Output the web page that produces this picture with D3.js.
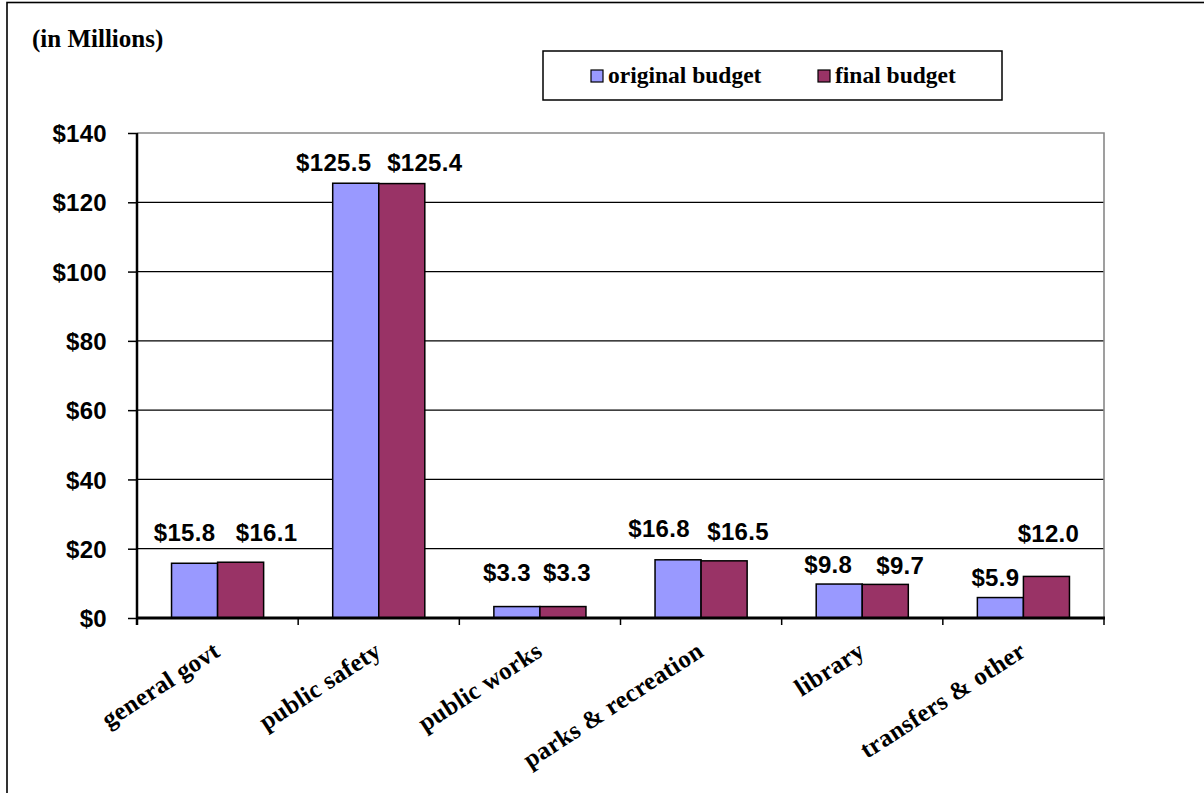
<!DOCTYPE html>
<html>
<head>
<meta charset="utf-8">
<script src="https://cdn.jsdelivr.net/npm/d3@7"></script>
<style>
  html, body { margin: 0; padding: 0; background: #fff; }
  svg { display: block; }
</style>
</head>
<body>
<svg id="chart" width="1204" height="793"></svg>
<script>
// ---- data ----
const categories = ["general govt", "public safety", "public works", "parks & recreation", "library", "transfers & other"];
const seriesNames = ["original budget", "final budget"];
const originalBudget = [15.8, 125.5, 3.3, 16.8, 9.8, 5.9];
const finalBudget = [16.1, 125.4, 3.3, 16.5, 9.7, 12.0];
const yTicks = [0, 20, 40, 60, 80, 100, 120, 140];
const unitNote = "(in Millions)";

// ---- styling (label nudges in px: [dx, dy from bar top]) ----
const colors = ["#9999FF", "#993366"];
const labelNudgeOriginal = [[-10, -31], [-22, -21], [-10, -34], [-19, -31], [-11, -20], [-5, -20]];
const labelNudgeFinal = [[26, -30], [23, -21], [4, -34], [14, -29], [15, -19], [2, -43]];

const svg = d3.select("#chart");
const W = 1204, H = 793;

// outer frame (extends past right/bottom edges)
svg.append("rect")
  .attr("x", 7).attr("y", 2.5)
  .attr("width", W + 20).attr("height", H + 20)
  .attr("fill", "#fff").attr("stroke", "#000").attr("stroke-width", 1.6);

const plot = { left: 137, right: 1104, top: 133, bottom: 618 };

const x = d3.scaleBand().domain(categories).range([plot.left, plot.right]).paddingInner(0).paddingOuter(0);
const y = d3.scaleLinear().domain([0, 140]).range([plot.bottom, plot.top]);
const barW = x.bandwidth() / 3.5; // Excel gap width 150%

// gridlines
const grid = svg.append("g");
grid.selectAll("line").data(yTicks.filter(t => t > 0 && t < 140)).join("line")
  .attr("x1", plot.left).attr("x2", plot.right)
  .attr("y1", d => y(d)).attr("y2", d => y(d))
  .attr("stroke", "#000").attr("stroke-width", 1.3);

// plot area border top/right (gray)
svg.append("path")
  .attr("d", `M${plot.left},${y(140)}H${plot.right}V${plot.bottom}`)
  .attr("fill", "none").attr("stroke", "#888").attr("stroke-width", 1.6);

// bars
const series = [originalBudget, finalBudget];
series.forEach((vals, si) => {
  svg.append("g").selectAll("rect").data(vals).join("rect")
    .attr("x", (d, i) => x(categories[i]) + x.bandwidth() / 2 - barW + si * barW)
    .attr("y", d => y(d))
    .attr("width", barW)
    .attr("height", d => y(0) - y(d))
    .attr("fill", colors[si])
    .attr("stroke", "#000").attr("stroke-width", 1.5);
});

const sansFont = "'Liberation Sans', Arial, sans-serif";
const serifFont = "'Liberation Serif', 'Times New Roman', serif";

// y axis
const yAxis = d3.axisLeft(y).tickValues(yTicks).tickSize(9).tickFormat(d => "$" + d);
const gy = svg.append("g").attr("transform", `translate(${plot.left},0)`).call(yAxis);
gy.select(".domain").attr("stroke", "#000").attr("stroke-width", 2.5).attr("d", `M0,${y(140)}V${plot.bottom + 7}`);
gy.selectAll(".tick line").attr("stroke", "#000").attr("stroke-width", 1.5);
gy.selectAll(".tick text")
  .attr("x", -30)
  .attr("dy", "0.36em")
  .attr("fill", "#000")
  .style("font-family", sansFont)
  .style("font-weight", "bold")
  .style("letter-spacing", "0.3px")
  .style("font-size", "24px");

// x axis line + ticks at category boundaries
const boundaries = categories.map(c => x(c)).concat([plot.right]);
svg.append("g").selectAll("line").data(boundaries).join("line")
  .attr("x1", d => d).attr("x2", d => d)
  .attr("y1", plot.bottom).attr("y2", plot.bottom + 7)
  .attr("stroke", "#000").attr("stroke-width", 1.5);
svg.append("line")
  .attr("x1", plot.left - 1).attr("x2", plot.right + 1)
  .attr("y1", plot.bottom).attr("y2", plot.bottom)
  .attr("stroke", "#000").attr("stroke-width", 3);

// category labels (rotated)
svg.append("g").selectAll("text").data(categories).join("text")
  .attr("transform", d => `translate(${x(d) + x.bandwidth() / 2 + 4},${plot.bottom + 37}) rotate(-33)`)
  .attr("text-anchor", "end")
  .attr("fill", "#000")
  .style("font-family", serifFont)
  .style("font-weight", "bold")
  .style("letter-spacing", "0.3px")
  .style("font-size", "25px")
  .text(d => d);

// data labels
const nudges = [labelNudgeOriginal, labelNudgeFinal];
series.forEach((vals, si) => {
  svg.append("g").selectAll("text").data(vals).join("text")
    .attr("x", (d, i) => x(categories[i]) + x.bandwidth() / 2 - barW / 2 + si * barW + nudges[si][i][0])
    .attr("y", (d, i) => y(d) + nudges[si][i][1])
    .attr("dy", "0.36em")
    .attr("text-anchor", "middle")
    .attr("fill", "#000")
    .style("font-family", sansFont)
    .style("font-weight", "bold")
    .style("letter-spacing", "0.3px")
    .style("font-size", "24px")
    .text(d => "$" + d.toFixed(1));
});

// unit note
svg.append("text")
  .attr("x", 32).attr("y", 47)
  .attr("fill", "#000")
  .style("font-family", serifFont)
  .style("font-weight", "bold")
  .style("font-size", "25px")
  .text(unitNote);

// legend
const lg = svg.append("g");
lg.append("rect").attr("x", 543).attr("y", 51).attr("width", 459).attr("height", 49)
  .attr("fill", "#fff").attr("stroke", "#000").attr("stroke-width", 1.5);
const legendX = [591, 818];
seriesNames.forEach((name, i) => {
  lg.append("rect").attr("x", legendX[i]).attr("y", 70).attr("width", 12).attr("height", 12)
    .attr("fill", colors[i]).attr("stroke", "#000").attr("stroke-width", 1.2);
  lg.append("text").attr("x", legendX[i] + 17).attr("y", 83)
    .attr("fill", "#000")
    .style("font-family", serifFont)
    .style("font-weight", "bold")
    .style("font-size", "23.5px")
    .text(name);
});
</script>
</body>
</html>
